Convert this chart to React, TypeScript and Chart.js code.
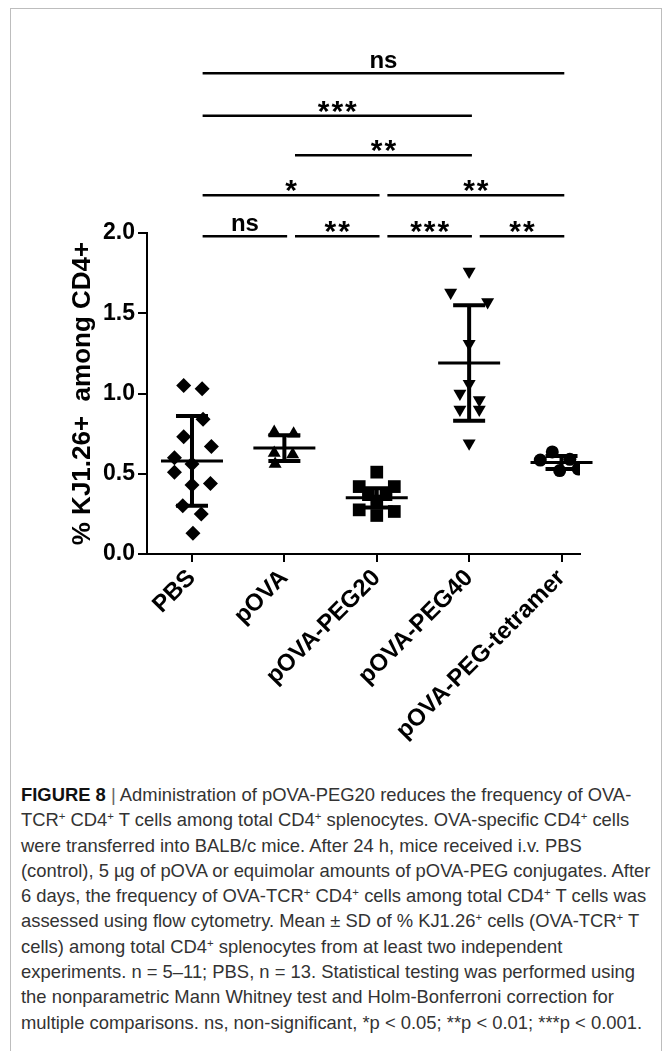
import React, { useEffect, useRef } from 'react';
import { Chart, registerables } from 'chart.js';

Chart.register(...registerables);

// ---------- data ----------
const categories = ['PBS', 'pOVA', 'pOVA-PEG20', 'pOVA-PEG40', 'pOVA-PEG-tetramer'];

const pbsValues = [1.05, 1.03, 0.84, 0.73, 0.67, 0.6, 0.56, 0.51, 0.44, 0.43, 0.3, 0.25, 0.13];
const pbsSpread = [-0.09, 0.11, 0.12, -0.09, 0.21, -0.19, 0, -0.19, 0.2, 0, -0.1, 0.1, 0.01];

const povaValues = [0.76, 0.75, 0.63, 0.62, 0.56];
const povaSpread = [-0.11, 0.1, -0.11, 0.09, -0.1];

const peg20Values = [0.51, 0.42, 0.42, 0.37, 0.37, 0.33, 0.275, 0.265, 0.24];
const peg20Spread = [0, -0.19, 0.19, -0.09, 0.1, 0, -0.19, 0.19, 0];

const peg40Values = [1.76, 1.63, 1.57, 1.31, 1.06, 1.0, 0.96, 0.9, 0.9, 0.69];
const peg40Spread = [0, -0.2, 0.2, 0, 0, -0.1, 0.11, -0.1, 0.11, 0];

const tetramerValues = [0.636, 0.585, 0.59, 0.52, 0.53];
const tetramerSpread = [-0.1, -0.23, 0.09, -0.02, 0.18];

const groupMeans = [0.58, 0.66, 0.35, 1.19, 0.57];
const groupSD = [0.28, 0.08, 0.06, 0.36, 0.04];

const yTickValues = [0, 0.5, 1.0, 1.5, 2.0];

// significance comparisons
const compFrom = [0, 1, 2, 3, 0, 2, 1, 0, 0];
const compTo = [1, 2, 3, 4, 2, 4, 3, 3, 4];
const compLabel = ['ns', '**', '***', '**', '*', '**', '**', '***', 'ns'];
const compLevel = [1.98, 1.98, 1.98, 1.98, 2.235, 2.235, 2.485, 2.73, 2.995];

const FONT = '"Liberation Sans", Arial, Helvetica, sans-serif';

const errorBarPlugin = {
  id: 'meanSD',
  afterDatasetsDraw(chart: any) {
    const { ctx, scales } = chart;
    const x = scales.x;
    const y = scales.y;
    ctx.save();
    ctx.strokeStyle = '#000';
    ctx.lineCap = 'butt';
    groupMeans.forEach((mu, i) => {
      const cx = x.getPixelForValue(i);
      const ym = y.getPixelForValue(mu);
      const yt = y.getPixelForValue(mu + groupSD[i]);
      const yb = y.getPixelForValue(mu - groupSD[i]);
      ctx.lineWidth = 4;
      ctx.beginPath();
      ctx.moveTo(cx, yt);
      ctx.lineTo(cx, yb);
      ctx.moveTo(cx - 16, yt);
      ctx.lineTo(cx + 16, yt);
      ctx.moveTo(cx - 16, yb);
      ctx.lineTo(cx + 16, yb);
      ctx.stroke();
      ctx.lineWidth = 3;
      ctx.beginPath();
      ctx.moveTo(cx - 31, ym);
      ctx.lineTo(cx + 31, ym);
      ctx.stroke();
    });
    ctx.restore();
  },
};

const significancePlugin = {
  id: 'significance',
  afterDraw(chart: any) {
    const { ctx, scales } = chart;
    const x = scales.x;
    const y = scales.y;
    ctx.save();
    ctx.strokeStyle = '#000';
    ctx.fillStyle = '#000';
    for (let k = 0; k < compFrom.length; k++) {
      const x1 = x.getPixelForValue(compFrom[k] + 0.115);
      const x2 = x.getPixelForValue(compTo[k] + 0.03);
      const yy = y.getPixelForValue(compLevel[k]);
      ctx.lineWidth = 2.5;
      ctx.beginPath();
      ctx.moveTo(x1, yy);
      ctx.lineTo(x2, yy);
      ctx.stroke();
      const label = compLabel[k];
      const isStar = label.charAt(0) === '*';
      ctx.font = isStar ? `bold 30px ${FONT}` : `bold 24px ${FONT}`;
      (ctx as any).letterSpacing = isStar ? '2px' : '0px';
      ctx.textAlign = 'center';
      ctx.textBaseline = 'alphabetic';
      const m = ctx.measureText(label);
      const gap = isStar ? 3 : 5;
      ctx.fillText(label, (x1 + x2) / 2 + (isStar ? 1 : 0), yy - gap - m.actualBoundingBoxDescent);
    }
    ctx.restore();
  },
};

function ChartFigure() {
  const ref = useRef<HTMLCanvasElement | null>(null);
  useEffect(() => {
    const canvas = ref.current;
    if (!canvas) return;
    const mk = (vals: number[], spread: number[], i: number) =>
      vals.map((v, j) => ({ x: i + spread[j], y: v }));
    const chart = new Chart(canvas, {
      type: 'scatter',
      data: {
        datasets: [
          { label: categories[0], data: mk(pbsValues, pbsSpread, 0), pointStyle: 'rectRot', pointRadius: 7.5, backgroundColor: '#000', borderColor: '#000', borderWidth: 0 },
          { label: categories[1], data: mk(povaValues, povaSpread, 1), pointStyle: 'triangle', pointRadius: 7.5, backgroundColor: '#000', borderColor: '#000', borderWidth: 0 },
          { label: categories[2], data: mk(peg20Values, peg20Spread, 2), pointStyle: 'rect', pointRadius: 9, backgroundColor: '#000', borderColor: '#000', borderWidth: 0 },
          { label: categories[3], data: mk(peg40Values, peg40Spread, 3), pointStyle: 'triangle', rotation: 180, pointRadius: 7.5, backgroundColor: '#000', borderColor: '#000', borderWidth: 0 },
          { label: categories[4], data: mk(tetramerValues, tetramerSpread, 4), pointStyle: 'circle', pointRadius: 6.5, backgroundColor: '#000', borderColor: '#000', borderWidth: 0 },
        ] as any,
      },
      options: {
        responsive: false,
        devicePixelRatio: 1,
        animation: false,
        layout: { padding: { top: 233, right: 83, left: 0, bottom: 0 } },
        plugins: { legend: { display: false }, tooltip: { enabled: false } },
        scales: {
          x: {
            type: 'linear',
            min: -0.487,
            max: 4.2,
            afterBuildTicks: (scale: any) => {
              scale.ticks = categories.map((_, i) => ({ value: i }));
            },
            afterFit: (scale: any) => {
              scale.height = 216;
            },
            grid: { display: true, drawOnChartArea: false, drawTicks: true, tickLength: 8, color: '#000', lineWidth: 2 },
            border: { display: true, color: '#000', width: 2 },
            ticks: {
              minRotation: 45,
              maxRotation: 45,
              autoSkip: false,
              padding: 2,
              color: '#000',
              font: { family: FONT, size: 24, weight: 'bold' },
              callback: (v: any) => {
                const idx = Math.round(Number(v));
                return categories[idx] ?? '';
              },
            },
          },
          y: {
            type: 'linear',
            min: 0,
            max: 2,
            afterBuildTicks: (scale: any) => {
              scale.ticks = yTickValues.map((v) => ({ value: v }));
            },
            afterFit: (scale: any) => {
              scale.width = 147;
            },
            grid: { display: true, drawOnChartArea: false, drawTicks: true, tickLength: 9, color: '#000', lineWidth: 2 },
            border: { display: true, color: '#000', width: 2 },
            ticks: {
              padding: 3,
              color: '#000',
              font: { family: FONT, size: 23, weight: 'bold' },
              callback: (v: any) => Number(v).toFixed(1),
            },
            title: {
              display: true,
              text: '% KJ1.26+  among CD4+',
              color: '#000',
              font: { family: FONT, size: 26, weight: 'bold' },
              padding: { top: 67, bottom: 0 },
            },
          },
        },
      } as any,
      plugins: [errorBarPlugin, significancePlugin],
    });
    return () => chart.destroy();
  }, []);
  return <canvas ref={ref} width={663} height={770} style={{ position: 'absolute', left: 0, top: 0, width: 663, height: 770 }} />;
}

const Sup = ({ children }: { children: React.ReactNode }) => (
  <span style={{ fontSize: '0.62em', position: 'relative', top: '-0.55em' }}>{children}</span>
);

const captionLines: React.ReactNode[] = [
  <><b style={{ fontWeight: 700, color: '#111' }}>FIGURE 8</b> <span style={{ color: '#666' }}>|</span> Administration of pOVA-PEG20 reduces the frequency of OVA-</>,
  <>TCR<Sup>+</Sup> CD4<Sup>+</Sup> T cells among total CD4<Sup>+</Sup> splenocytes. OVA-specific CD4<Sup>+</Sup> cells</>,
  <>were transferred into BALB/c mice. After 24 h, mice received i.v. PBS</>,
  <>(control), 5 µg of pOVA or equimolar amounts of pOVA-PEG conjugates. After</>,
  <>6 days, the frequency of OVA-TCR<Sup>+</Sup> CD4<Sup>+</Sup> cells among total CD4<Sup>+</Sup> T cells was</>,
  <>assessed using flow cytometry. Mean ± SD of % KJ1.26<Sup>+</Sup> cells (OVA-TCR<Sup>+</Sup> T</>,
  <>cells) among total CD4<Sup>+</Sup> splenocytes from at least two independent</>,
  <>experiments. n = 5–11; PBS, n = 13. Statistical testing was performed using</>,
  <>the nonparametric Mann Whitney test and Holm-Bonferroni correction for</>,
  <>multiple comparisons. ns, non-significant, *p &lt; 0.05; **p &lt; 0.01; ***p &lt; 0.001.</>,
];

export default function App() {
  useEffect(() => {
    document.body.style.margin = '0';
  }, []);
  return (
    <div style={{ position: 'relative', width: 663, height: 1051, overflow: 'hidden', background: '#fff' }}>
      <div
        style={{
          position: 'absolute',
          left: 10,
          top: 8,
          width: 652,
          height: 1080,
          border: '1px solid #bdbdbd',
          boxSizing: 'border-box',
        }}
      />
      <ChartFigure />
      <div style={{ position: 'absolute', left: 21, top: 782, fontFamily: FONT, fontSize: 18.4, color: '#333', whiteSpace: 'nowrap' }}>
        {captionLines.map((line, i) => (
          <div key={i} style={{ height: 25.3, lineHeight: '25.3px' }}>
            {line}
          </div>
        ))}
      </div>
    </div>
  );
}
